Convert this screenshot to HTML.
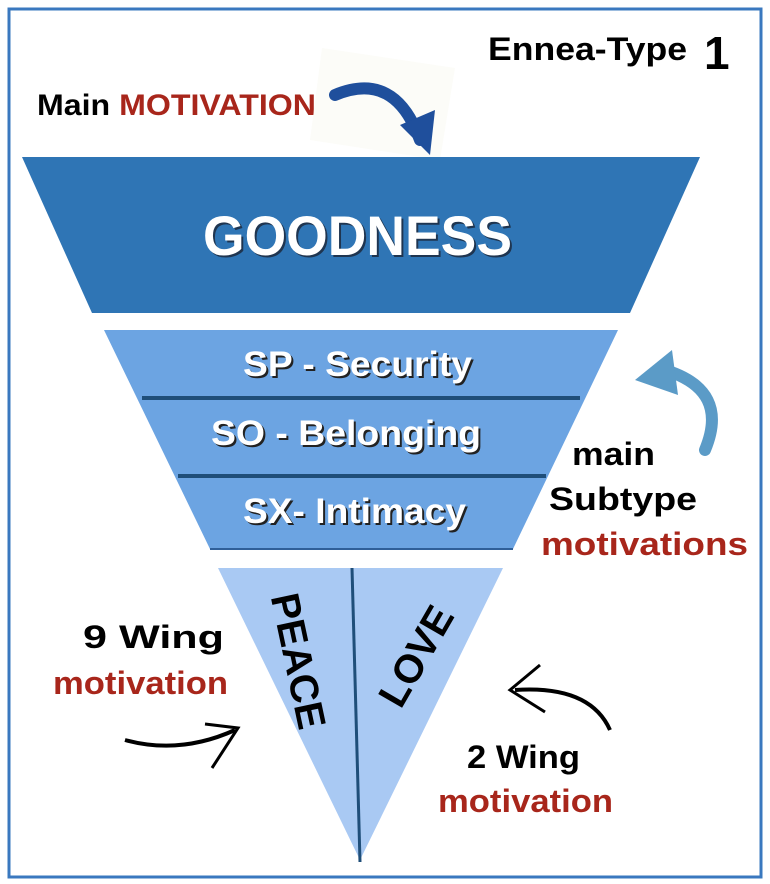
<!DOCTYPE html>
<html><head><meta charset="utf-8"><style>
html,body{margin:0;padding:0;background:#fff}
svg{display:block}
text{font-family:"Liberation Sans",Arial,sans-serif;font-weight:bold}
</style></head><body>
<svg width="770" height="884" viewBox="0 0 770 884" xmlns="http://www.w3.org/2000/svg">
<rect x="9" y="9" width="752" height="868" fill="#fff" stroke="#3a78bf" stroke-width="3"/>
<text x="488" y="60" font-size="32" fill="#000" textLength="199" lengthAdjust="spacingAndGlyphs">Ennea-Type</text>
<text x="704" y="69" font-size="46" fill="#000">1</text>
<text x="37" y="115" font-size="30" fill="#000" textLength="279" lengthAdjust="spacingAndGlyphs">Main <tspan fill="#a8261b">MOTIVATION</tspan></text>
<!-- top arrow -->
<polygon points="322,48 455,68 440,160 310,140" fill="#fbfbf6" opacity="0.8"/>
<path d="M335,95 Q395,70 420,140" stroke="#1f4f9c" stroke-width="12" fill="none" stroke-linecap="round"/>
<polygon points="400,125 435,110 430,155" fill="#1f4f9c"/>
<!-- goodness -->
<polygon points="22,157 700,157 630,313 92,313" fill="#2f75b5"/>
<text x="205" y="257" font-size="56" fill="#1f3550" textLength="309" lengthAdjust="spacingAndGlyphs">GOODNESS</text>
<text x="203" y="255" font-size="56" fill="#fff" textLength="309" lengthAdjust="spacingAndGlyphs">GOODNESS</text>
<!-- subtype -->
<polygon points="104,330 618,330 513,549 210,549" fill="#6ca4e2"/>
<line x1="142" y1="398" x2="580" y2="398" stroke="#1f4e79" stroke-width="4"/>
<line x1="178" y1="476" x2="546" y2="476" stroke="#1f4e79" stroke-width="4"/>
<line x1="210" y1="549" x2="513" y2="549" stroke="#2f5f99" stroke-width="2"/>
<g font-size="35" lengthAdjust="spacingAndGlyphs">
<text x="245" y="378" fill="#222" textLength="229" lengthAdjust="spacingAndGlyphs">SP - Security</text><text x="243" y="376" fill="#fff" textLength="229" lengthAdjust="spacingAndGlyphs">SP - Security</text>
<text x="213" y="447" fill="#222" textLength="270" lengthAdjust="spacingAndGlyphs">SO - Belonging</text><text x="211" y="445" fill="#fff" textLength="270" lengthAdjust="spacingAndGlyphs">SO - Belonging</text>
<text x="245" y="525" fill="#222" textLength="223" lengthAdjust="spacingAndGlyphs">SX- Intimacy</text><text x="243" y="523" fill="#fff" textLength="223" lengthAdjust="spacingAndGlyphs">SX- Intimacy</text>
</g>
<!-- right curved arrow -->
<path d="M705,450 Q730,390 665,370" stroke="#5b9bc7" stroke-width="12" fill="none" stroke-linecap="round"/>
<polygon points="635,380 672,350 678,395" fill="#5b9bc7"/>
<text x="572" y="465" font-size="32" fill="#000" textLength="83" lengthAdjust="spacingAndGlyphs">main</text>
<text x="549" y="510" font-size="32" fill="#000" textLength="148" lengthAdjust="spacingAndGlyphs">Subtype</text>
<text x="541" y="555" font-size="32" fill="#a8261b" textLength="207" lengthAdjust="spacingAndGlyphs">motivations</text>
<!-- triangle -->
<polygon points="218,568 503,568 360,860" fill="#a9c9f3"/>
<line x1="352" y1="568" x2="360" y2="862" stroke="#1f4e79" stroke-width="3"/>
<text transform="translate(285,664) rotate(78)" font-size="40" fill="#000" text-anchor="middle">PEACE</text>
<text transform="translate(428,663) rotate(-60)" font-size="40" fill="#000" text-anchor="middle">LOVE</text>
<text x="83" y="648" font-size="32" fill="#000" textLength="141" lengthAdjust="spacingAndGlyphs">9 Wing</text>
<text x="53" y="694" font-size="32" fill="#a8261b" textLength="175" lengthAdjust="spacingAndGlyphs">motivation</text>
<text x="467" y="768" font-size="32" fill="#000" textLength="113" lengthAdjust="spacingAndGlyphs">2 Wing</text>
<text x="438" y="812" font-size="32" fill="#a8261b" textLength="175" lengthAdjust="spacingAndGlyphs">motivation</text>
<!-- left wing arrow -->
<path d="M125,740 Q180,755 235,730" stroke="#000" stroke-width="4" fill="none"/>
<path d="M205,724 L238,728 L212,768" stroke="#000" stroke-width="3" fill="none"/>
<!-- right wing arrow -->
<path d="M610,730 Q590,685 515,690" stroke="#000" stroke-width="4" fill="none"/>
<path d="M540,665 L510,690 L545,712" stroke="#000" stroke-width="3" fill="none"/>
</svg>
</body></html>
